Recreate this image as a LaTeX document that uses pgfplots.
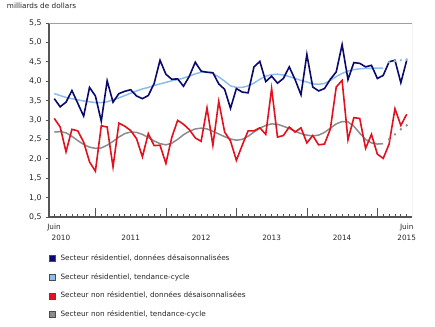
\documentclass[border=0pt]{standalone}
\usepackage{pgfplots}
\pgfplotsset{compat=1.18}
\usepackage{fontspec}
\setmainfont{DejaVu Sans}
\definecolor{resSA}{HTML}{0A0A6E}
\definecolor{resTC}{HTML}{8CBCEB}
\definecolor{nresSA}{HTML}{E3101E}
\definecolor{nresTC}{HTML}{8C8C8C}
\definecolor{axisdark}{HTML}{555555}
\pgfplotsset{sqleg/.style={legend image code/.code={\draw[draw=black!70,line width=0.4pt,fill=#1] (0pt,-3pt) rectangle (6pt,3pt);}}}
\begin{document}
\begin{tikzpicture}
\path[use as bounding box] (0pt,0pt) rectangle (435pt,326pt);
\begin{axis}[
  at={(49pt,109pt)}, anchor=south west,
  scale only axis, width=363pt, height=194pt,
  xmin=-0.9, xmax=60.9, ymin=0.5, ymax=5.5,
  axis lines*=left,
  axis line style={draw=axisdark, line width=1.2pt},
  tick align=inside,
  major tick length=9pt, minor tick length=3.2pt,
  xtick={7,19,31,43,55}, xticklabels={},
  minor xtick={0,...,60},
  x tick style={draw=axisdark, line width=0.7pt},
  ytick={0.5,1,...,5.5},
  minor ytick={0.5,1,...,5.5},
  major y tick style={draw=none},
  minor y tick style={draw=axisdark, line width=0.7pt, xshift=-3.2pt},
  /pgf/number format/assume math mode=true,
  /pgf/number format/use comma,
  /pgf/number format/fixed,
  /pgf/number format/fixed zerofill,
  /pgf/number format/precision=1,
  yticklabel style={font=\fontsize{7.8}{9}\selectfont, inner sep=0pt, xshift=-7.3pt, text=black!85},
  extra x ticks={1.14,13,25,37,49,60},
  extra x tick labels={{Juin\hspace*{14pt}\\2010},{\vphantom{Juin}\\2011},{\vphantom{Juin}\\2012},{\vphantom{Juin}\\2013},{\vphantom{Juin}\\2014},{Juin\\2015}},
  extra x tick style={major tick length=0pt, tick style={draw=none},
     tick label style={align=center, font=\fontsize{7.3}{11.7}\selectfont, anchor=north, inner sep=0pt, yshift=-6.5pt, text=black!85}},
  legend style={at={(0,-0.196)}, anchor=north west, draw=none, fill=none, inner sep=0pt,
     font=\fontsize{7.3}{8.5}\selectfont, row sep=11.8pt, column sep=5pt,
     nodes={inner sep=0pt, text height=5.3pt, text depth=1.5pt, text=black!85}},
  legend cell align=left,
]
\addlegendimage{sqleg=resSA}
\addlegendentry{Secteur résidentiel, données désaisonnalisées}
\addlegendimage{sqleg=resTC}
\addlegendentry{Secteur résidentiel, tendance-cycle}
\addlegendimage{sqleg=nresSA}
\addlegendentry{Secteur non résidentiel, données désaisonnalisées}
\addlegendimage{sqleg=nresTC}
\addlegendentry{Secteur non résidentiel, tendance-cycle}

% non-residential trend-cycle
\addplot[forget plot, nresTC, line width=1.5pt] coordinates {
(0,2.69)(1,2.70)(2,2.67)(3,2.58)(4,2.47)(5,2.37)(6,2.30)(7,2.27)(8,2.28)(9,2.35)
(10,2.45)(11,2.56)(12,2.65)(13,2.69)(14,2.68)(15,2.63)(16,2.55)(17,2.46)(18,2.39)(19,2.36)
(20,2.40)(21,2.50)(22,2.62)(23,2.71)(24,2.77)(25,2.79)(26,2.77)(27,2.71)(28,2.64)(29,2.57)
(30,2.51)(31,2.48)(32,2.50)(33,2.58)(34,2.69)(35,2.79)(36,2.86)(37,2.90)(38,2.89)(39,2.84)
(40,2.78)(41,2.71)(42,2.65)(43,2.61)(44,2.59)(45,2.61)(46,2.68)(47,2.79)(48,2.90)(49,2.96)
(50,2.95)(51,2.84)(52,2.66)(53,2.50)(54,2.41)(55,2.38)(56,2.39)};
\addplot[forget plot, only marks, mark=*, mark size=1pt, nresTC] coordinates {
(57,2.50)(58,2.63)(59,2.76)(60,2.86)};
% residential trend-cycle
\addplot[forget plot, resTC, line width=1.5pt] coordinates {
(0,3.68)(1,3.63)(2,3.58)(3,3.55)(4,3.52)(5,3.49)(6,3.47)(7,3.45)(8,3.45)(9,3.47)
(10,3.52)(11,3.57)(12,3.63)(13,3.69)(14,3.75)(15,3.80)(16,3.84)(17,3.89)(18,3.93)(19,3.97)
(20,4.01)(21,4.04)(22,4.08)(23,4.13)(24,4.19)(25,4.23)(26,4.24)(27,4.20)(28,4.11)(29,4.00)
(30,3.88)(31,3.84)(32,3.84)(33,3.88)(34,3.95)(35,4.05)(36,4.13)(37,4.17)(38,4.18)(39,4.16)
(40,4.12)(41,4.07)(42,4.02)(43,3.98)(44,3.93)(45,3.92)(46,3.94)(47,4.02)(48,4.12)(49,4.20)
(50,4.26)(51,4.30)(52,4.32)(53,4.33)(54,4.33)(55,4.34)(56,4.34)};
\addplot[forget plot, only marks, mark=*, mark size=1pt, resTC] coordinates {
(57,4.49)(58,4.52)(59,4.54)(60,4.56)};
% non-residential SA
\addplot[forget plot, nresSA, line width=1.6pt] coordinates {
(0,3.04)(1,2.82)(2,2.18)(3,2.76)(4,2.72)(5,2.43)(6,1.92)(7,1.68)(8,2.85)(9,2.82)
(10,1.79)(11,2.92)(12,2.84)(13,2.73)(14,2.52)(15,2.05)(16,2.65)(17,2.34)(18,2.35)(19,1.88)
(20,2.55)(21,2.99)(22,2.89)(23,2.75)(24,2.54)(25,2.45)(26,3.31)(27,2.35)(28,3.48)(29,2.69)
(30,2.46)(31,1.96)(32,2.35)(33,2.72)(34,2.72)(35,2.80)(36,2.63)(37,3.81)(38,2.56)(39,2.60)
(40,2.82)(41,2.69)(42,2.80)(43,2.41)(44,2.60)(45,2.36)(46,2.38)(47,2.77)(48,3.85)(49,4.02)
(50,2.49)(51,3.06)(52,3.04)(53,2.27)(54,2.63)(55,2.12)(56,2.01)(57,2.38)(58,3.29)(59,2.86)
(60,3.15)};
% residential SA
\addplot[forget plot, resSA, line width=1.6pt] coordinates {
(0,3.55)(1,3.34)(2,3.46)(3,3.76)(4,3.43)(5,3.10)(6,3.84)(7,3.62)(8,2.97)(9,4.01)
(10,3.46)(11,3.68)(12,3.74)(13,3.78)(14,3.62)(15,3.55)(16,3.63)(17,3.94)(18,4.54)(19,4.18)
(20,4.05)(21,4.06)(22,3.87)(23,4.13)(24,4.49)(25,4.26)(26,4.23)(27,4.22)(28,3.93)(29,3.79)
(30,3.30)(31,3.81)(32,3.72)(33,3.70)(34,4.37)(35,4.51)(36,3.99)(37,4.13)(38,3.95)(39,4.07)
(40,4.37)(41,4.04)(42,3.65)(43,4.69)(44,3.85)(45,3.75)(46,3.81)(47,4.05)(48,4.24)(49,4.94)
(50,4.04)(51,4.48)(52,4.46)(53,4.37)(54,4.41)(55,4.07)(56,4.15)(57,4.50)(58,4.54)(59,3.96)
(60,4.54)};

\draw[draw=gray!75, line width=0.6pt] (rel axis cs:0,1) -- (rel axis cs:1,1) -- (rel axis cs:1,0);
\end{axis}
\node[anchor=west, inner sep=0pt, font=\fontsize{7.3}{8.5}\selectfont, text=black!85] at (6.7pt,320.5pt) {milliards de dollars};
\end{tikzpicture}
\end{document}
